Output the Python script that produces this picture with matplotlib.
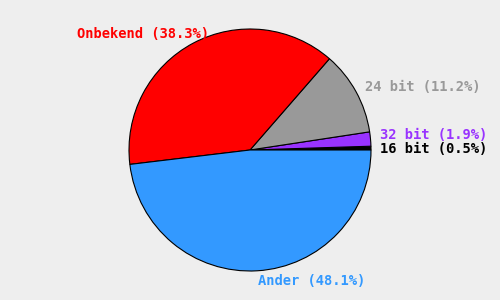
import matplotlib
matplotlib.use("Agg")
import matplotlib.pyplot as plt

categories = ["16 bit", "32 bit", "24 bit", "Onbekend", "Ander"]
values = [0.5, 1.9, 11.2, 38.3, 48.1]
colors = ["#000000", "#9933ff", "#999999", "#ff0000", "#3399ff"]
label_colors = ["#000000", "#9933ff", "#999999", "#ff0000", "#3399ff"]
# label anchor positions (pixels, left/top) and alignment
label_pos = [(380, 149, "left"), (380, 135, "left"), (365, 87, "left"),
             (77, 34, "left"), (258, 281, "left")]

fig = plt.figure(figsize=(5, 3), dpi=100, facecolor="#eeeeee")
ax = fig.add_axes([0, 0, 1, 1])
ax.set_facecolor("#eeeeee")
ax.pie(values, colors=colors, startangle=0, counterclock=True,
       center=(250, 150), radius=121,
       wedgeprops=dict(edgecolor="black", linewidth=0.8))
ax.set_xlim(0, 500)
ax.set_ylim(0, 300)
ax.set_aspect("equal")
ax.axis("off")

for cat, v, c, (x, y, ha) in zip(categories, values, label_colors, label_pos):
    ax.text(x, 300 - y, f"{cat} ({v:.1f}%)", color=c, ha=ha, va="center",
            fontsize=9.9, fontweight="bold", family="DejaVu Sans Mono")

fig.savefig("out.png", dpi=100, facecolor="#eeeeee")
